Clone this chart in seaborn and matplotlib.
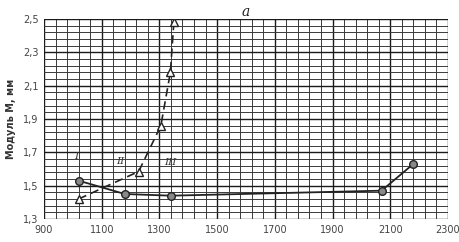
import pandas as pd
import matplotlib.pyplot as plt
import seaborn as sns
from matplotlib.ticker import FixedLocator, FuncFormatter

sns.set_style('white')
plt.rcParams['font.family'] = ['DejaVu Sans']

# solid curve (circles)
solid_x = [1020, 1180, 1340, 2070, 2180]
solid_y = [1.53, 1.45, 1.44, 1.47, 1.63]
# dashed curve (triangles)
dash_x = [1020, 1228, 1305, 1338, 1350]
dash_y = [1.42, 1.585, 1.86, 2.18, 2.48]

zone_labels = ['I', 'II', 'III']
zone_x = [1012, 1165, 1338]
zone_y = [1.675, 1.645, 1.64]

x_ticks = [900, 1100, 1300, 1500, 1700, 1900, 2100, 2300]
y_ticks = [1.3, 1.5, 1.7, 1.9, 2.1, 2.3, 2.5]
x_minor = list(range(900, 2301, 40))
y_minor = [1.3 + 0.04 * i for i in range(31)]

df_s = pd.DataFrame({'x': solid_x, 'y': solid_y})
df_d = pd.DataFrame({'x': dash_x, 'y': dash_y})

fig = plt.figure(figsize=(4.6, 2.42), dpi=100)
ax = fig.add_axes([0.0957, 0.095, 0.878, 0.8265])

ax.set_xlim(900, 2300)
ax.set_ylim(1.3, 2.5)
ax.xaxis.set_major_locator(FixedLocator(x_ticks))
ax.xaxis.set_minor_locator(FixedLocator(x_minor))
ax.yaxis.set_major_locator(FixedLocator(y_ticks))
ax.yaxis.set_minor_locator(FixedLocator(y_minor))
ax.grid(which='major', color='#1a1a1a', linewidth=1.0)
ax.grid(which='minor', color='#3a3a3a', linewidth=0.7)
ax.set_axisbelow(True)

sns.lineplot(data=df_s, x='x', y='y', ax=ax, color='#222222', linewidth=1.3,
             marker='o', markersize=5.5, markerfacecolor='#888888',
             markeredgecolor='#222222', markeredgewidth=1.0, sort=False)
sns.lineplot(data=df_d, x='x', y='y', ax=ax, color='#222222', linewidth=1.2,
             linestyle=(0, (5, 3)), marker='^', markersize=5.5,
             markerfacecolor='white', markeredgecolor='#222222',
             markeredgewidth=1.0, sort=False)

for lab, lx, ly in zip(zone_labels, zone_x, zone_y):
    ax.text(lx, ly, lab, fontstyle='italic', family='DejaVu Serif',
            fontsize=7.5, color='#333333', ha='center', va='center')

ax.yaxis.set_major_formatter(FuncFormatter(lambda v, p: f'{v:.1f}'.replace('.', ',')))
ax.xaxis.set_major_formatter(FuncFormatter(lambda v, p: f'{v:.0f}'))
ax.tick_params(axis='both', which='both', length=0, labelsize=7, colors='#444444', pad=4)
for sp in ax.spines.values():
    sp.set_visible(False)

ax.set_xlabel('')
ax.set_ylabel('Модуль М, мм', fontsize=7, fontweight='bold', color='#333333', labelpad=5)
ax.set_title('a', fontstyle='italic', family='DejaVu Serif', fontsize=10, pad=2, color='#222222')

plt.savefig('out.png', dpi=100)
